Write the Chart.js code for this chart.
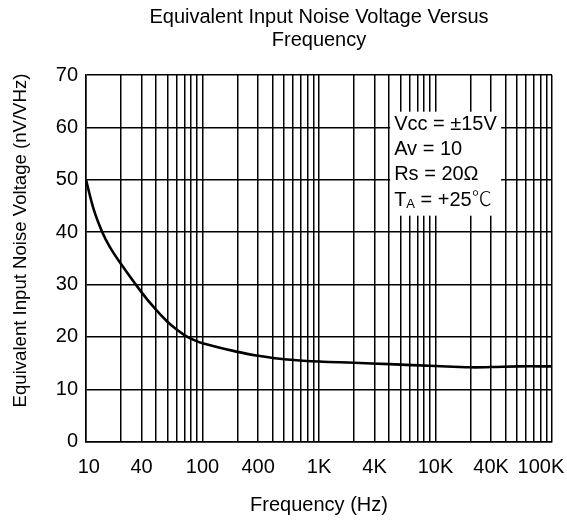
<!DOCTYPE html>
<html>
<head>
<meta charset="utf-8">
<script src="https://cdn.jsdelivr.net/npm/chart.js@4.4.1/dist/chart.umd.min.js"></script>
<style>
  html, body { margin: 0; padding: 0; background: #fff; }
</style>
</head>
<body>
<canvas id="noiseChart" width="567" height="521"></canvas>
<script>
// curve
const freqHz  = [10, 11.7, 13.8, 16, 20, 30, 40, 50, 60, 70, 80, 100, 200, 300, 400, 500, 1000, 2000, 4000, 10000, 20000, 30000, 52000, 100000];
const noiseNv = [50, 44.2, 40, 37.2, 33.9, 28.5, 25.15, 22.9, 21.4, 20.35, 19.65, 18.8, 17.15, 16.4, 16.0, 15.75, 15.3, 15.07, 14.8, 14.44, 14.2, 14.25, 14.38, 14.38];

// x tick labels (the original puts "40" on the 30 line, "400" on 300, etc.)
const labelFreqs = [10, 30, 100, 300, 1000, 3000, 10000, 30000, 100000];
const labelText  = ['10', '40', '100', '400', '1K', '4K', '10K', '40K', '100K'];

// conditions box
const noteLines = ['Vcc = \u00b115V', 'Av = 10', 'Rs = 20\u03a9'];
const noteTemp  = ['T', 'A', ' = +25', '\u2103'];
const noteAt    = { x: 4000, y: 63 };

const FONT = "'Liberation Sans', Arial, sans-serif";

// log grid: 1..9 in every decade
const gridFreqs = [];
for (let d = 10; d < 100000; d *= 10) {
  for (let m = 1; m < 10; m++) gridFreqs.push(d * m);
}
gridFreqs.push(100000);

const yTitlePlugin = {
  id: 'yTitle',
  afterDraw(chart) {
    const ctx = chart.ctx;
    ctx.save();
    ctx.translate(26, 240.5);
    ctx.rotate(-Math.PI / 2);
    ctx.font = '18.6px ' + FONT;
    ctx.fillStyle = '#000';
    ctx.textAlign = 'center';
    ctx.textBaseline = 'alphabetic';
    ctx.fillText('Equivalent Input Noise Voltage (nV/VHz)', 0, 0);
    ctx.restore();
  }
};

const notePlugin = {
  id: 'note',
  afterDatasetsDraw(chart) {
    const ctx = chart.ctx;
    const x = chart.scales.x.getPixelForValue(noteAt.x) + 1;
    const y = chart.scales.y.getPixelForValue(noteAt.y);
    ctx.save();
    ctx.fillStyle = '#fff';
    ctx.fillRect(x, y, 111, 104);
    ctx.fillStyle = '#000';
    ctx.font = '20px ' + FONT;
    ctx.textAlign = 'left';
    ctx.textBaseline = 'alphabetic';
    noteLines.forEach((t, i) => ctx.fillText(t, x + 4, y + 18 + i * 25.3));
    // T with subscript A, then the degree sign from the CJK face
    const by = y + 18 + 3 * 25.3;
    let tx = x + 4;
    ctx.fillText(noteTemp[0], tx, by);
    tx += ctx.measureText(noteTemp[0]).width;
    ctx.font = '13px ' + FONT;
    ctx.fillText(noteTemp[1], tx, by + 2.5);
    tx += ctx.measureText(noteTemp[1]).width;
    ctx.font = '20px ' + FONT;
    ctx.fillText(noteTemp[2], tx, by);
    tx += ctx.measureText(noteTemp[2]).width;
    ctx.font = "300 20px 'Noto Sans CJK SC', sans-serif";
    ctx.fillText(noteTemp[3], tx, by);
    ctx.restore();
  }
};

new Chart(document.getElementById('noiseChart'), {
  type: 'line',
  data: {
    datasets: [{
      data: freqHz.map((f, i) => ({ x: f, y: noiseNv[i] })),
      borderColor: '#000',
      borderWidth: 2.6,
      pointRadius: 0,
      fill: false,
      tension: 0.4
    }]
  },
  options: {
    responsive: false,
    animation: false,
    devicePixelRatio: 1,
    layout: { padding: { left: 0, right: 15, top: 0, bottom: 0 } },
    plugins: {
      legend: { display: false },
      tooltip: { enabled: false },
      title: {
        display: true,
        fullSize: false,
        text: ['Equivalent Input Noise Voltage Versus', 'Frequency'],
        color: '#000',
        font: { family: FONT, size: 20, weight: 'normal', lineHeight: 1.15 },
        padding: { top: 6, bottom: 23 }
      }
    },
    scales: {
      x: {
        type: 'logarithmic',
        min: 10,
        max: 100000,
        afterBuildTicks: (scale) => {
          scale.ticks = gridFreqs.map(v => ({ value: v }));
        },
        afterFit: (scale) => {
          scale.height = 79.3;
          scale.paddingLeft = 0;
          scale.paddingRight = 0;
        },
        grid: { color: '#000', lineWidth: 1.5, drawTicks: false },
        border: { color: '#000', width: 1.5 },
        ticks: {
          autoSkip: false,
          maxRotation: 0,
          padding: 14,
          color: '#000',
          font: { family: FONT, size: 20 },
          callback: (value) => {
            const i = labelFreqs.indexOf(value);
            if (i < 0) return '';
            if (i === 0) return ' ' + labelText[i];
            if (i === labelFreqs.length - 1) return labelText[i] + '    ';
            return labelText[i];
          }
        },
        title: {
          display: true,
          text: 'Frequency (Hz)',
          color: '#000',
          font: { family: FONT, size: 20 },
          padding: { top: 0, bottom: 4 }
        }
      },
      y: {
        min: 0,
        max: 70,
        afterFit: (scale) => {
          scale.width = 86;
          scale.paddingTop = 0;
          scale.paddingBottom = 0;
        },
        grid: { color: '#000', lineWidth: 1.5, drawTicks: false },
        border: { color: '#000', width: 1.5 },
        ticks: {
          stepSize: 10,
          padding: 8,
          color: '#000',
          font: { family: FONT, size: 20 }
        }
      }
    }
  },
  plugins: [yTitlePlugin, notePlugin]
});
</script>
</body>
</html>
